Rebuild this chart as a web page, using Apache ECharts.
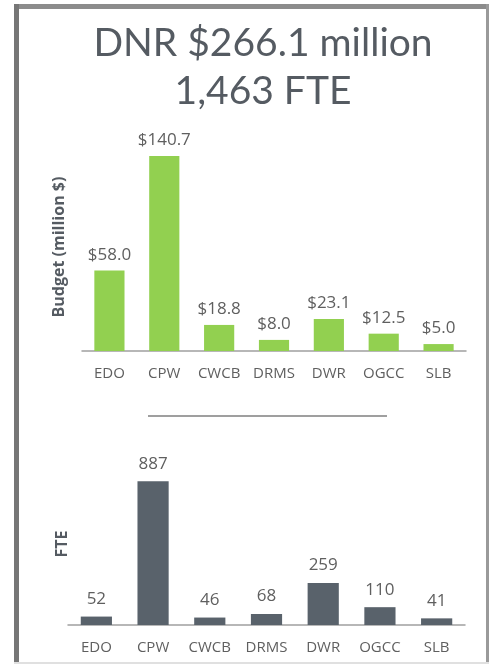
<!DOCTYPE html>
<html>
<head>
<meta charset="utf-8">
<script src="https://cdn.jsdelivr.net/npm/echarts@6/dist/echarts.min.js"></script>
<style>
html, body { margin: 0; padding: 0; background: #fff; }
#content { width: 491px; height: 664px; }
</style>
</head>
<body>
<div id="content"></div>
<script>
var categories = ['EDO', 'CPW', 'CWCB', 'DRMS', 'DWR', 'OGCC', 'SLB'];
var budget = [58.0, 140.7, 18.8, 8.0, 23.1, 12.5, 5.0];
var fte = [52, 887, 46, 68, 259, 110, 41];

var textColor = '#5f5f5f';
var font = 'Open Sans';

var myChart = echarts.init(document.getElementById('content'));
myChart.setOption(
    option = {
        animation: false,
        title: {
            text: 'DNR $266.1 million\n1,463 FTE',
            left: 258,
            textAlign: 'center',
            top: 14,
            textStyle: {
                fontFamily: 'Lato',
                fontSize: 39,
                fontWeight: 'normal',
                lineHeight: 48,
                color: '#555b62'
            }
        },
        graphic: [
            {type: 'rect', shape: {x: 14, y: 4, width: 475, height: 5}, style: {fill: '#8c8c8c'}},
            {type: 'rect', shape: {x: 14, y: 4, width: 5, height: 660}, style: {fill: '#767676'}},
            {type: 'rect', shape: {x: 486, y: 4, width: 3, height: 660}, style: {fill: '#9a9a9a'}},
            {type: 'rect', shape: {x: 14, y: 662, width: 475, height: 2}, style: {fill: '#e0e0e0'}},
            {type: 'line', shape: {x1: 148, y1: 416, x2: 387, y2: 416}, style: {stroke: '#7f7f7f', lineWidth: 1.5}}
        ],
        grid: [
            {left: 82, right: 25, top: 143, height: 208},
            {left: 68, right: 26, top: 463, height: 162}
        ],
        xAxis: [
            {
                type: 'category',
                gridIndex: 0,
                data: categories,
                axisLine: {lineStyle: {color: '#a0a0a0', width: 1.5}},
                axisTick: {show: false},
                axisLabel: {interval: 0, color: textColor, fontFamily: font, fontSize: 15, margin: 15}
            },
            {
                type: 'category',
                gridIndex: 1,
                data: categories,
                axisLine: {lineStyle: {color: '#a0a0a0', width: 1.5}},
                axisTick: {show: false},
                axisLabel: {interval: 0, color: textColor, fontFamily: font, fontSize: 15, margin: 15}
            }
        ],
        yAxis: [
            {
                type: 'value',
                gridIndex: 0,
                min: 0,
                max: 150,
                name: 'Budget (million $)',
                nameLocation: 'middle',
                nameGap: 15,
                nameTextStyle: {color: '#555b62', fontFamily: font, fontSize: 16, fontWeight: 'bold'},
                axisLine: {show: false},
                axisTick: {show: false},
                axisLabel: {show: false},
                splitLine: {show: false}
            },
            {
                type: 'value',
                gridIndex: 1,
                min: 0,
                max: 1000,
                name: 'FTE',
                nameLocation: 'middle',
                nameGap: -2,
                nameTextStyle: {color: '#555b62', fontFamily: font, fontSize: 16, fontWeight: 'bold'},
                axisLine: {show: false},
                axisTick: {show: false},
                axisLabel: {show: false},
                splitLine: {show: false}
            }
        ],
        series: [
            {
                name: 'Budget',
                type: 'bar',
                xAxisIndex: 0,
                yAxisIndex: 0,
                barWidth: '55%',
                itemStyle: {color: '#92d050'},
                label: {
                    show: true,
                    position: 'top',
                    distance: 7,
                    color: textColor,
                    fontFamily: font,
                    fontSize: 17,
                    formatter: function (p) { return '$' + p.value.toFixed(1); }
                },
                data: budget
            },
            {
                name: 'FTE',
                type: 'bar',
                xAxisIndex: 1,
                yAxisIndex: 1,
                barWidth: '55%',
                itemStyle: {color: '#59626b'},
                label: {
                    show: true,
                    position: 'top',
                    distance: 9,
                    color: textColor,
                    fontFamily: font,
                    fontSize: 17
                },
                data: fte
            }
        ]
    });
</script>
</body>
</html>
